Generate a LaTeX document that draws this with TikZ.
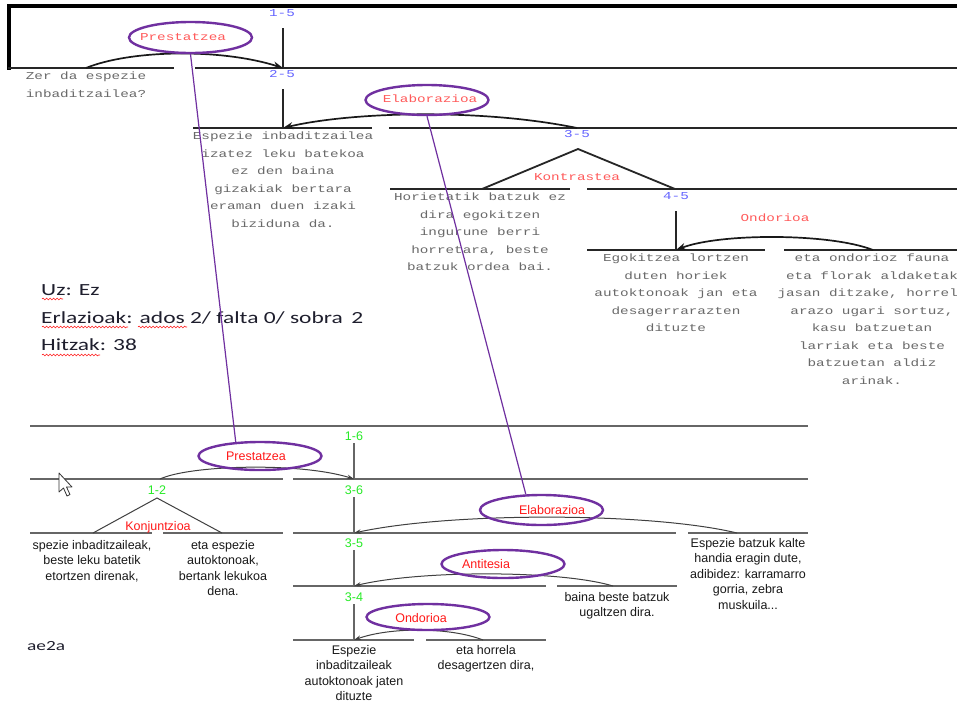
\documentclass[tikz,border=0pt]{standalone}
\usepackage{fontspec}
\setmainfont{Liberation Sans}
\newfontfamily\monof[FakeStretch=1.35]{Liberation Mono}
\newfontfamily\calf[FakeStretch=1.38]{Carlito}
\usetikzlibrary{arrows.meta,shapes.geometric,decorations.pathmorphing}
\definecolor{rstblue}{RGB}{100,100,255}
\definecolor{rstred}{RGB}{255,90,90}
\definecolor{brred}{RGB}{255,25,25}
\definecolor{rstgreen}{RGB}{40,235,40}
\definecolor{rstpurple}{RGB}{112,48,160}
\definecolor{monogrey}{RGB}{105,105,105}
\definecolor{infotext}{RGB}{30,30,45}
\tikzset{
  frame/.style={line width=3.5pt, draw=black, line cap=rect},
  seg/.style={line width=1.8pt, draw=black!85},
  bseg/.style={line width=1.6pt, draw=black!60},
  rarrow/.style={line width=1.7pt, draw=black!90, -{Stealth[length=10pt,width=7pt]}},
  barrow/.style={line width=1pt, draw=black!75, -{Stealth[length=7pt,width=4.5pt]}},
  monotext/.style={font=\monof\fontsize{10.6}{17.5}\selectfont, text=monogrey, align=center, inner sep=0pt, anchor=north},
  sanstext/.style={font=\fontsize{12.5}{15.5}\selectfont, text=black!90, align=center, inner sep=0pt, anchor=north},
  bluelab/.style={font=\monof\fontsize{10.6}{12}\selectfont, text=rstblue, inner sep=0pt},
  redmono/.style={font=\monof\fontsize{10.6}{12}\selectfont, text=rstred, inner sep=0pt},
  greenlab/.style={font=\fontsize{12.5}{14}\selectfont, text=rstgreen, inner sep=0pt},
  redsans/.style={font=\fontsize{12.5}{14}\selectfont, text=brred, inner sep=0pt},
  pell/.style={ellipse, draw=rstpurple, line width=2.4pt, inner sep=0pt, minimum width=123pt},
  pline/.style={draw=rstpurple, line width=1.2pt},
  info/.style={font=\calf\fontsize{17}{20}\selectfont, text=infotext, inner sep=0pt, anchor=base west},
  squig/.style={draw=red!90, line width=0.6pt, decorate, decoration={snake, amplitude=0.9pt, segment length=3.5pt}},
}
\begin{document}
\begin{tikzpicture}[x=1pt,y=-1pt]
\useasboundingbox (0,0) rectangle (957,704);
\fill[white] (0,0) rectangle (957,704);

% ---------------- top tree ----------------
\draw[frame] (960,6) -- (9,6) -- (9,68);
\draw[seg] (8,68) -- (174,68);
\draw[seg] (195,68) -- (960,68);
\draw[seg] (193,128) -- (372,128);
\draw[seg] (389,128) -- (960,128);
\draw[seg] (390,189) -- (570,189);
\draw[seg] (587,189) -- (960,189);
\draw[seg] (587,250) -- (765,250);
\draw[seg] (784,250) -- (960,250);

\coordinate (t15) at (283,28);
\coordinate (n1) at (283,68);
\coordinate (s1) at (86,68);
\coordinate (t25) at (283,89);
\coordinate (n2) at (283,128);
\coordinate (s2) at (577,128);
\coordinate (k0) at (578,149);
\coordinate (kl) at (482,189);
\coordinate (kr) at (675,189);
\coordinate (t45) at (676,211);
\coordinate (n4) at (676,250);
\coordinate (s4) at (873,250);

\draw[seg] (t15) -- (n1);
\draw[seg] (t25) -- (n2);
\draw[seg] (t45) -- (n4);
\draw[seg] (kl) -- (k0) -- (kr);
\draw[rarrow] (s1) .. controls (130,50) and (220,48) .. (n1);
\draw[rarrow] (s2) .. controls (480,108) and (350,112) .. (n2);
\draw[rarrow] (s4) .. controls (830,233) and (720,233) .. (n4);

\node[bluelab] (l15) at (282,13) {1-5};
\node[bluelab] (l25) at (282,74) {2-5};
\node[bluelab] (l35) at (577,134) {3-5};
\node[bluelab] (l45) at (676,196) {4-5};

\node[pell, minimum height=31pt] (ep1) at (190.5,37.5) {};
\node[redmono] (rp1) at (183,37) {Prestatzea};
\node[pell, minimum height=30pt] (ee1) at (427,100) {};
\node[redmono] (re1) at (430,99) {Elaborazioa};
\node[redmono] (rk1) at (577,177) {Kontrastea};
\node[redmono] (ro1) at (775,218) {Ondorioa};

\node[monotext] (tx1) at (86,72) {Zer da espezie\\inbaditzailea?};
\node[monotext] (tx2) at (283,132) {Espezie inbaditzailea\\izatez leku batekoa\\ez den baina\\gizakiak bertara\\eraman duen izaki\\biziduna da.};
\node[monotext] (tx3) at (480,193) {Horietatik batzuk ez\\dira egokitzen\\ingurune berri\\horretara, beste\\batzuk ordea bai.};
\node[monotext] (tx4) at (676,254) {Egokitzea lortzen\\duten horiek\\autoktonoak jan eta\\desagerrarazten\\dituzte};
\node[monotext] (tx5) at (872,254) {eta ondorioz fauna\\eta florak aldaketak\\jasan ditzake, horrela\\arazo ugari sortuz,\\kasu batzuetan\\larriak eta beste\\batzuetan aldiz\\arinak.};

% ---------------- info text ----------------
\node[info] (i1) at (41,295) {Uz: Ez};
\node[info] (i2) at (41,323) {Erlazioak: ados 2/ falta 0/ sobra\hspace{0.5em}2};
\node[info] (i3) at (41,350) {Hitzak: 38};
\draw[squig] (42,299) -- (63,299);
\draw[squig] (42,327) -- (128,327);
\draw[squig] (138,327) -- (187,327);
\draw[squig] (42,355) -- (100,355);
\node[font=\calf\fontsize{14}{16}\selectfont, text=infotext, inner sep=0pt, anchor=base west] (ae) at (27,650) {ae2a};

% ---------------- bottom tree ----------------
\draw[bseg] (30,426) -- (808,426);
\draw[bseg] (30,479) -- (283,479);
\draw[bseg] (293,479) -- (808,479);
\draw[bseg] (30,533) -- (152,533);
\draw[bseg] (163,533) -- (283,533);
\draw[bseg] (293,533) -- (676,533);
\draw[bseg] (688,533) -- (808,533);
\draw[bseg] (293,586) -- (546,586);
\draw[bseg] (557,586) -- (677,586);
\draw[bseg] (293,640) -- (414,640);
\draw[bseg] (426,640) -- (546,640);

\coordinate (b16) at (354,443);
\coordinate (m1) at (354,479);
\coordinate (b36) at (354,497);
\coordinate (m2) at (354,533);
\coordinate (b35) at (354,550);
\coordinate (m3) at (354,586);
\coordinate (b34) at (354,604);
\coordinate (m4) at (354,640);
\coordinate (bs1) at (160,479);
\coordinate (bs2) at (737,533);
\coordinate (bs3) at (613,586);
\coordinate (bs4) at (483,640);
\coordinate (c0) at (157,498);
\coordinate (cl) at (93,533);
\coordinate (cr) at (222,533);

\draw[bseg] (b16) -- (m1);
\draw[bseg] (b36) -- (m2);
\draw[bseg] (b35) -- (m3);
\draw[bseg] (b34) -- (m4);
\draw[line width=1pt, draw=black!75] (cl) -- (c0) -- (cr);
\draw[barrow] (bs1) .. controls (190,465) and (300,462) .. (m1);
\draw[barrow] (bs2) .. controls (650,512) and (450,512) .. (m2);
\draw[barrow] (bs3) .. controls (560,570) and (420,570) .. (m3);
\draw[barrow] (bs4) .. controls (450,627) and (390,627) .. (m4);

\node[greenlab] (g16) at (354,436) {1-6};
\node[greenlab] (g36) at (354,490) {3-6};
\node[greenlab] (g12) at (157,490) {1-2};
\node[greenlab] (g35) at (354,543) {3-5};
\node[greenlab] (g34) at (354,597) {3-4};

\node[pell, minimum height=28pt] (ep2) at (260,456) {};
\node[redsans] (rp2) at (256,456) {Prestatzea};
\node[redsans] (rk2) at (158,527) {Konjuntzioa};
\node[pell, minimum height=30pt] (ee2) at (541.5,510) {};
\node[redsans] (re2) at (552,510) {Elaborazioa};
\node[pell, minimum height=28pt] (ea2) at (503,564) {};
\node[redsans] (ra2) at (486,564) {Antitesia};
\node[pell, minimum height=26pt] (eo2) at (428,617) {};
\node[redsans] (ro2) at (421,618) {Ondorioa};

\node[sanstext] (bx1) at (92,540) {spezie inbaditzaileak,\\beste leku batetik\\etortzen direnak,};
\node[sanstext] (bx2) at (223,540) {eta espezie\\autoktonoak,\\bertank lekukoa\\dena.};
\node[sanstext] (bx3) at (748,538) {Espezie batzuk kalte\\handia eragin dute,\\adibidez: karramarro\\gorria, zebra\\muskuila...};
\node[sanstext] (bx4) at (617,592) {baina beste batzuk\\ugaltzen dira.};
\node[sanstext] (bx5) at (354,645) {Espezie\\inbaditzaileak\\autoktonoak jaten\\dituzte};
\node[sanstext] (bx6) at (486,645) {eta horrela\\desagertzen dira,};

% purple links
\draw[pline] (ep1.south) -- (ep2.150);
\draw[pline] (ee1.south) -- (ee2.135);

% mouse cursor
\draw[fill=white, draw=black!80, line width=0.8pt, line join=round] (59,473) -- (59,492) -- (63.5,488) -- (67,496) -- (70,494.5) -- (66.5,487) -- (72,487) -- cycle;
\end{tikzpicture}
\end{document}
